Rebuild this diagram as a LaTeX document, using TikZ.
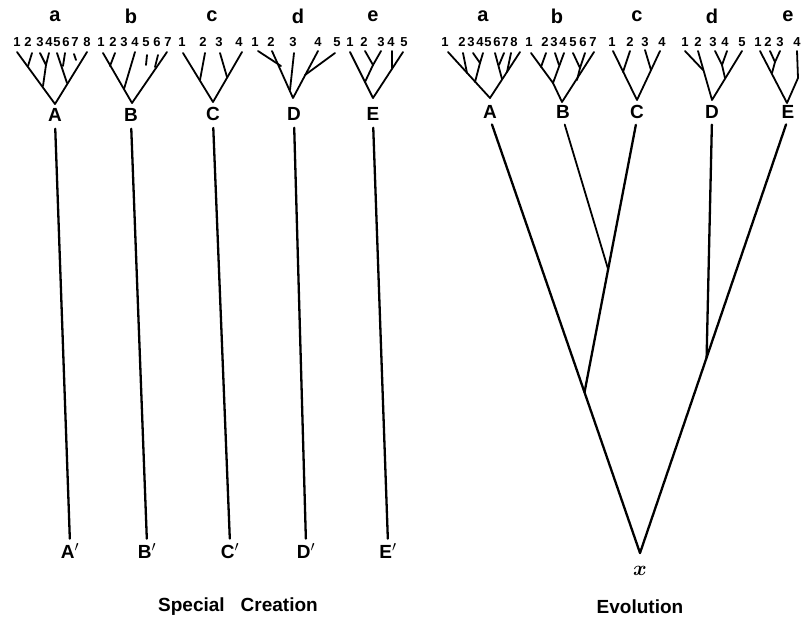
\documentclass[tikz,border=0pt]{standalone}
\usepackage{bm}
\usepackage{fontspec}
\setmainfont{Liberation Sans}
\usetikzlibrary{calc}
\tikzset{
  lett/.style={font=\bfseries\fontsize{20}{20}\selectfont, inner sep=0pt},
  tipnum/.style={font=\bfseries\fontsize{13}{13}\selectfont, inner sep=0pt},
  caplab/.style={font=\bfseries\fontsize{19}{19}\selectfont, inner sep=0pt},
  xlab/.style={font=\fontsize{20}{20}\selectfont, inner sep=0pt},
  twig/.style={line width=1.8pt, line cap=round, line join=round},
  trunk/.style={line width=2.3pt, line cap=round},
  titlelab/.style={font=\bfseries\fontsize{19}{19}\selectfont, inner sep=0pt}
}
\begin{document}
\begin{tikzpicture}[x=1pt,y=-1pt]
\useasboundingbox[fill=white] (0,0) rectangle (803,630);

% ---------------- Special Creation ----------------
\node[lett] (la) at (55,16) {a};
\node[lett] (lb) at (131,16) {b};
\node[lett] (lc) at (212,16) {c};
\node[lett] (ld) at (298,16) {d};
\node[lett] (le) at (373,16) {e};

\foreach \xx/\t [count=\i] in {17/1,28/2,40/3,49/4,57/5,66/6,75/7,87/8}
  \node[tipnum] (lat\i) at (\xx,42) {\t};
\foreach \xx/\t [count=\i] in {101/1,113/2,124/3,135/4,146/5,157/6,168/7}
  \node[tipnum] (lbt\i) at (\xx,42) {\t};
\foreach \xx/\t [count=\i] in {182/1,203/2,219/3,239/4}
  \node[tipnum] (lct\i) at (\xx,42) {\t};
\foreach \xx/\t [count=\i] in {255/1,271/2,293/3,318/4,337/5}
  \node[tipnum] (ldt\i) at (\xx,42) {\t};
\foreach \xx/\t [count=\i] in {350/1,364/2,381/3,391/4,404/5}
  \node[tipnum] (let\i) at (\xx,42) {\t};

% tree a
\draw[twig] (17,52) -- (55,104) -- (87,52);
\draw[twig] (32,53) -- (28,66);
\draw[twig] (40,53) -- (46,65) -- (49,53);
\draw[twig] (46,65) -- (43,86);
\draw[twig] (57,53) -- (67,83);
\draw[twig] (65,53) -- (63,66);
\draw[twig] (74,54) -- (76,60);
% tree b
\draw[twig] (103,53) -- (132,103) -- (167,52);
\draw[twig] (115,53) -- (110,66);
\draw[twig] (135,52) -- (124,89);
\draw[twig] (158,55) -- (155,67);
\draw[twig] (147,55) -- (146,65);
% tree c
\draw[twig] (183,53) -- (213,102) -- (242,52);
\draw[twig] (205,53) -- (200,80);
\draw[twig] (220,53) -- (227,77);
% tree d
\draw[twig] (272,51) -- (293,98) -- (318,51);
\draw[twig] (258,51) -- (281,66);
\draw[twig] (294,53) -- (290,90);
\draw[twig] (335,53) -- (305,75);
% tree e
\draw[twig] (350,52) -- (373,98) -- (403,52);
\draw[twig] (365,51) -- (373,65) -- (381,51);
\draw[twig] (373,65) -- (365,82);
\draw[twig] (392,51) -- (392,68);

\node[caplab] (lA) at (55,115) {A};
\node[caplab] (lB) at (131,115) {B};
\node[caplab] (lC) at (213,114) {C};
\node[caplab] (lD) at (294,114) {D};
\node[caplab] (lE) at (373,114) {E};

\node[caplab] (lAp) at (70,551) {A$'$};
\node[caplab] (lBp) at (147,551) {B$'$};
\node[caplab] (lCp) at (230,551) {C$'$};
\node[caplab] (lDp) at (306,551) {D$'$};
\node[caplab] (lEp) at (388,551) {E$'$};

\foreach \n in {A,B,C,D,E}
  \draw[trunk, shorten <=7pt, shorten >=5pt] (l\n.south) -- (l\n p.north);

\node[titlelab] (tsc) at (238,607) {Special\hspace{16pt}Creation};

% ---------------- Evolution ----------------
\node[lett] (ra) at (483,16) {a};
\node[lett] (rb) at (557,16) {b};
\node[lett] (rc) at (637,16) {c};
\node[lett] (rd) at (712,16) {d};
\node[lett] (re) at (788,16) {e};

\foreach \xx/\t [count=\i] in {445/1,462/2,471/3,480/4,488/5,497/6,505/7,514/8}
  \node[tipnum] (rat\i) at (\xx,42) {\t};
\foreach \xx/\t [count=\i] in {529/1,545/2,554/3,563/4,573/5,583/6,593/7}
  \node[tipnum] (rbt\i) at (\xx,42) {\t};
\foreach \xx/\t [count=\i] in {612/1,630/2,645/3,662/4}
  \node[tipnum] (rct\i) at (\xx,42) {\t};
\foreach \xx/\t [count=\i] in {685/1,698/2,713/3,725/4,742/5}
  \node[tipnum] (rdt\i) at (\xx,42) {\t};
\foreach \xx/\t [count=\i] in {758/1,768/2,780/3,797/4}
  \node[tipnum] (ret\i) at (\xx,42) {\t};

% tree a
\draw[twig] (448,52) -- (490,98) -- (520,52);
\draw[twig] (463,53) -- (467,73);
\draw[twig] (473,53) -- (480,63) -- (483,53);
\draw[twig] (480,63) -- (475,82);
\draw[twig] (495,53) -- (502,79);
\draw[twig] (504,53) -- (499,65);
\draw[twig] (511,53) -- (507,72);
% tree b
\draw[twig] (531,53) -- (553,83) -- (564,53);
\draw[twig] (553,83) -- (562,102) -- (594,52);
\draw[twig] (546,53) -- (541,67);
\draw[twig] (555,53) -- (559,65);
\draw[twig] (573,53) -- (580,68) -- (585,53);
\draw[twig] (580,68) -- (577,80);
% tree c
\draw[twig] (613,51) -- (637,100) -- (660,51);
\draw[twig] (630,51) -- (623,72);
\draw[twig] (645,50) -- (651,70);
% tree d
\draw[twig] (698,51) -- (712,100) -- (742,51);
\draw[twig] (685,51) -- (703,70);
\draw[twig] (715,51) -- (722,65) -- (727,51);
\draw[twig] (722,65) -- (725,78);
% tree e
\draw[twig] (760,51) -- (787,103) -- (798,78) -- (797,51);
\draw[twig] (770,51) -- (775,62) -- (780,51);
\draw[twig] (775,62) -- (772,73);

\node[caplab] (rA) at (490,112) {A};
\node[caplab] (rB) at (563,112) {B};
\node[caplab] (rC) at (637,112) {C};
\node[caplab] (rD) at (712,112) {D};
\node[caplab] (rE) at (788,112) {E};

\coordinate (x0) at (640,553);
\node[xlab] (xl) at (640,571) {$\bm{x}$};

\coordinate (jA) at ($(rA.south)!0.63!(x0)$);
\coordinate (jB) at ($(rC.south)!0.55!(jA)$);
\coordinate (jE) at ($(rE.south)!0.55!(x0)$);

\draw[trunk, shorten <=6pt] (rA.south) -- (x0);
\draw[trunk, shorten <=6pt] (rE.south) -- (x0);
\draw[trunk, shorten <=6pt] (rC.south) -- (jA);
\draw[trunk, line width=1.8pt, shorten <=6pt] (rB.south) -- (jB);
\draw[trunk, shorten <=6pt] (rD.south) -- (jE);

\node[titlelab] (tev) at (640,607) {Evolution};
\end{tikzpicture}
\end{document}
